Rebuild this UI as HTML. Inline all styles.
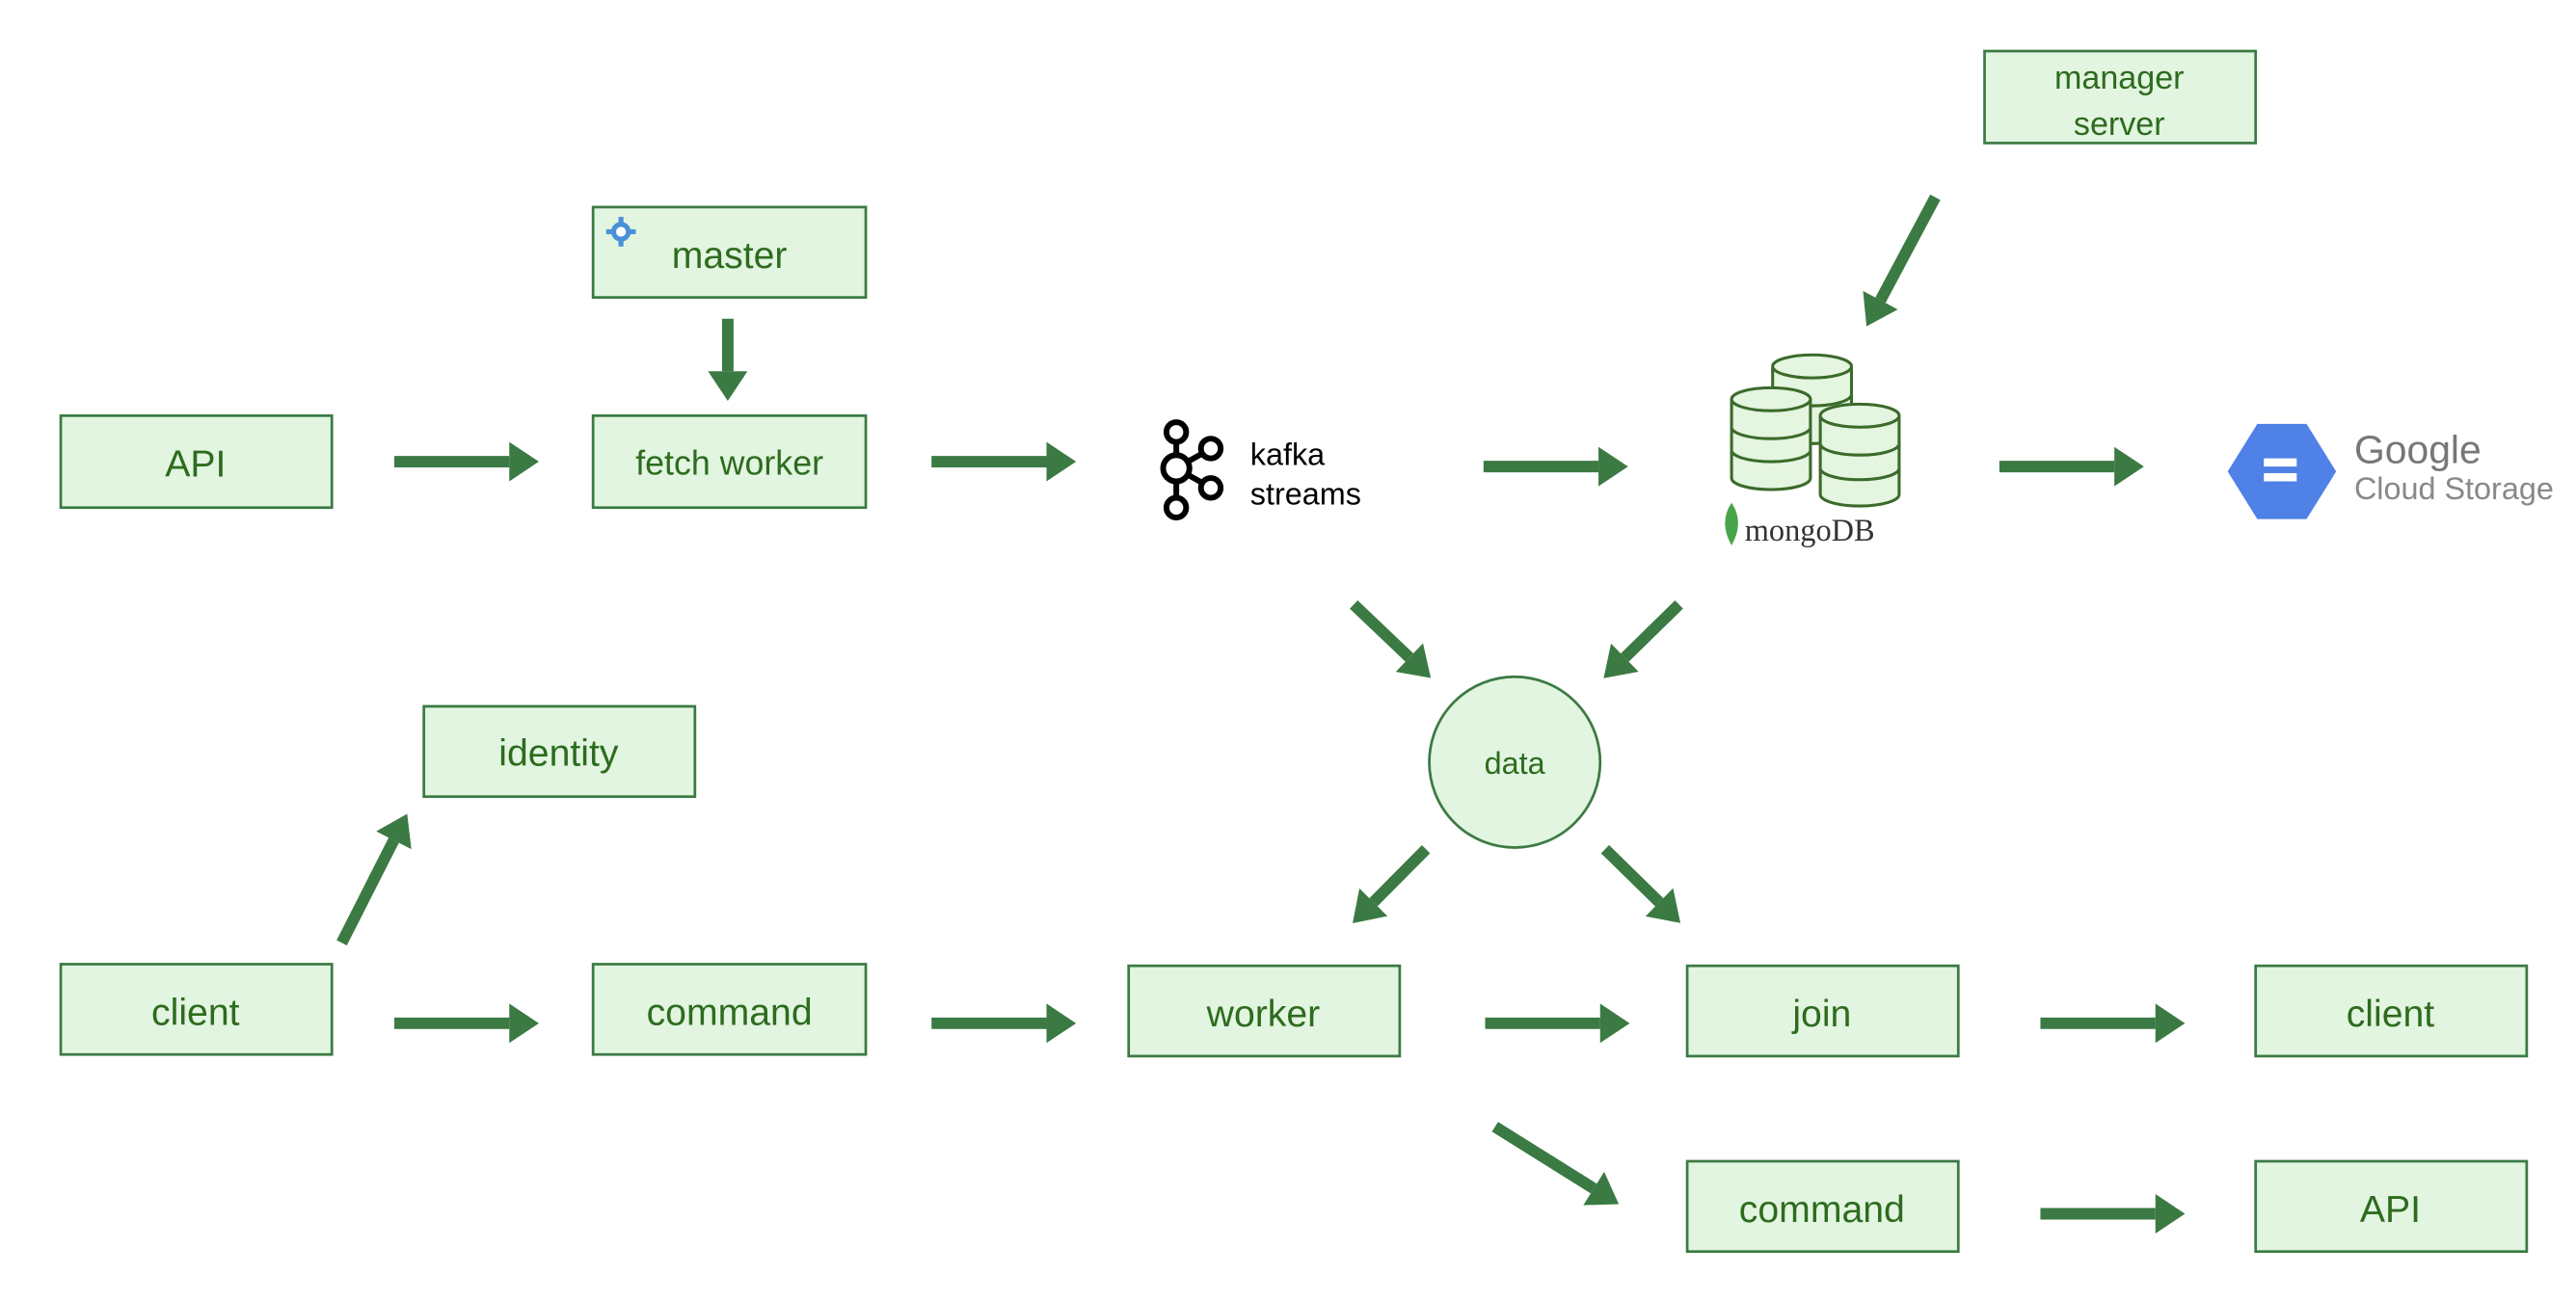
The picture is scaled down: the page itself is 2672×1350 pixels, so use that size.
<!DOCTYPE html>
<html><head><meta charset="utf-8"><style>
html,body{margin:0;padding:0;background:#fff;}
svg{display:block;}
text{font-family:"Liberation Sans","DejaVu Sans",sans-serif;}
.b{fill:#e1f5e0;stroke:#3b7a43;stroke-width:1.6;}
.t{fill:#2e6b1e;font-size:23px;text-anchor:middle;}
.a{stroke:#3b7a43;stroke-width:7;fill:none;}
</style></head><body>
<svg width="2672" height="1350" viewBox="0 0 1568 792" xmlns="http://www.w3.org/2000/svg">
<defs><marker id="h" markerUnits="userSpaceOnUse" markerWidth="20" markerHeight="24" refX="0" refY="10" orient="auto" viewBox="0 0 16 20"><path d="M0,0 L15,10 L0,20 z" fill="#3b7a43"/></marker></defs>

<!-- boxes -->
<rect class="b" x="1208" y="31" width="165" height="56"/>
<text class="t" x="1290" y="54" style="font-size:20px">manager</text>
<text class="t" x="1290" y="82" style="font-size:20px">server</text>

<rect class="b" x="361" y="126" width="166" height="55"/>
<text class="t" x="444" y="163">master</text>
<g transform="translate(378,141)" fill="#4a90d9"><circle r="6"/><rect x="-1.5" y="-9" width="3" height="18"/><rect x="-9" y="-1.5" width="18" height="3"/><circle r="3" fill="#fff"/></g>

<rect class="b" x="37" y="253" width="165" height="56"/>
<text class="t" x="119" y="290">API</text>
<rect class="b" x="361" y="253" width="166" height="56"/>
<text class="t" x="444" y="289" style="font-size:21px">fetch worker</text>

<rect class="b" x="258" y="430" width="165" height="55"/>
<text class="t" x="340" y="466">identity</text>

<rect class="b" x="37" y="587" width="165" height="55"/>
<text class="t" x="119" y="624">client</text>
<rect class="b" x="361" y="587" width="166" height="55"/>
<text class="t" x="444" y="624">command</text>
<rect class="b" x="687" y="588" width="165" height="55"/>
<text class="t" x="769" y="625">worker</text>
<rect class="b" x="1027" y="588" width="165" height="55"/>
<text class="t" x="1109" y="625">join</text>
<rect class="b" x="1373" y="588" width="165" height="55"/>
<text class="t" x="1455" y="625">client</text>
<rect class="b" x="1027" y="707" width="165" height="55"/>
<text class="t" x="1109" y="744">command</text>
<rect class="b" x="1373" y="707" width="165" height="55"/>
<text class="t" x="1455" y="744">API</text>

<circle cx="922" cy="464" r="52" class="b"/>
<text class="t" x="922" y="471" style="font-size:19px">data</text>

<!-- kafka -->
<g stroke="#000" stroke-width="3.5" fill="none">
<circle cx="716" cy="263" r="6"/><circle cx="716" cy="285" r="8"/><circle cx="716" cy="309" r="6"/>
<circle cx="737" cy="273" r="6"/><circle cx="737" cy="297" r="6"/>
<line x1="716" y1="269" x2="716" y2="277"/><line x1="716" y1="293" x2="716" y2="303"/>
<line x1="723" y1="281" x2="732" y2="276"/><line x1="723" y1="289" x2="732" y2="294"/>
</g>
<text x="761" y="283" style="font-size:19px" fill="#000">kafka</text>
<text x="761" y="307" style="font-size:19px" fill="#000">streams</text>

<!-- mongo cylinders -->
<g stroke="#3b6a2a" stroke-width="1.8" fill="#e4f5e0">
<path d="M1079,223 v40 a24,7 0 0 0 48,0 v-40"/><ellipse cx="1103" cy="223" rx="24" ry="7"/><path d="M1079,240 a24,7 0 0 0 48,0"/>
<path d="M1054,243 v48 a24,7 0 0 0 48,0 v-48"/><ellipse cx="1078" cy="243" rx="24" ry="7"/><path d="M1054,260 a24,7 0 0 0 48,0 M1054,274 a24,7 0 0 0 48,0"/>
<path d="M1108,253 v48 a24,7 0 0 0 48,0 v-48"/><ellipse cx="1132" cy="253" rx="24" ry="7"/><path d="M1108,270 a24,7 0 0 0 48,0 M1108,285 a24,7 0 0 0 48,0"/>
</g>
<path d="M1054,306 q-8,12 0,26 q8,-14 0,-26z" fill="#4aa54a"/>
<text x="1062" y="329" style="font-size:19px;font-family:'Liberation Serif',serif" fill="#333">mongoDB</text>

<!-- GCS -->
<polygon points="1374,258 1404,258 1422,287 1404,316 1374,316 1356,287" fill="#4f81e6"/>
<rect x="1378" y="279" width="20" height="5" fill="#fff"/><rect x="1378" y="288" width="20" height="5" fill="#fff"/>
<text x="1433" y="282" style="font-size:24px" fill="#777">Google</text>
<text x="1433" y="304" style="font-size:19px" fill="#888">Cloud Storage</text>

<!-- arrows -->
<g class="a" marker-end="url(#h)">
<line x1="240" y1="281" x2="310" y2="281"/>
<line x1="567" y1="281" x2="637" y2="281"/>
<line x1="443" y1="194" x2="443" y2="226"/>
<line x1="903" y1="284" x2="973" y2="284"/>
<line x1="1217" y1="284" x2="1287" y2="284"/>
<line x1="1178" y1="120" x2="1144.6" y2="182.7"/>
<line x1="824" y1="368" x2="857.9" y2="400.3"/>
<line x1="1022" y1="368" x2="989" y2="400.3"/>
<line x1="868" y1="517" x2="836" y2="549.3"/>
<line x1="977" y1="517" x2="1010" y2="549.3"/>
<line x1="208" y1="574" x2="239.7" y2="511.5"/>
<line x1="240" y1="623" x2="310" y2="623"/>
<line x1="567" y1="623" x2="637" y2="623"/>
<line x1="904" y1="623" x2="974" y2="623"/>
<line x1="1242" y1="623" x2="1312" y2="623"/>
<line x1="910" y1="686" x2="970.1" y2="723.6"/>
<line x1="1242" y1="739" x2="1312" y2="739"/>
</g>
</svg>
</body></html>
